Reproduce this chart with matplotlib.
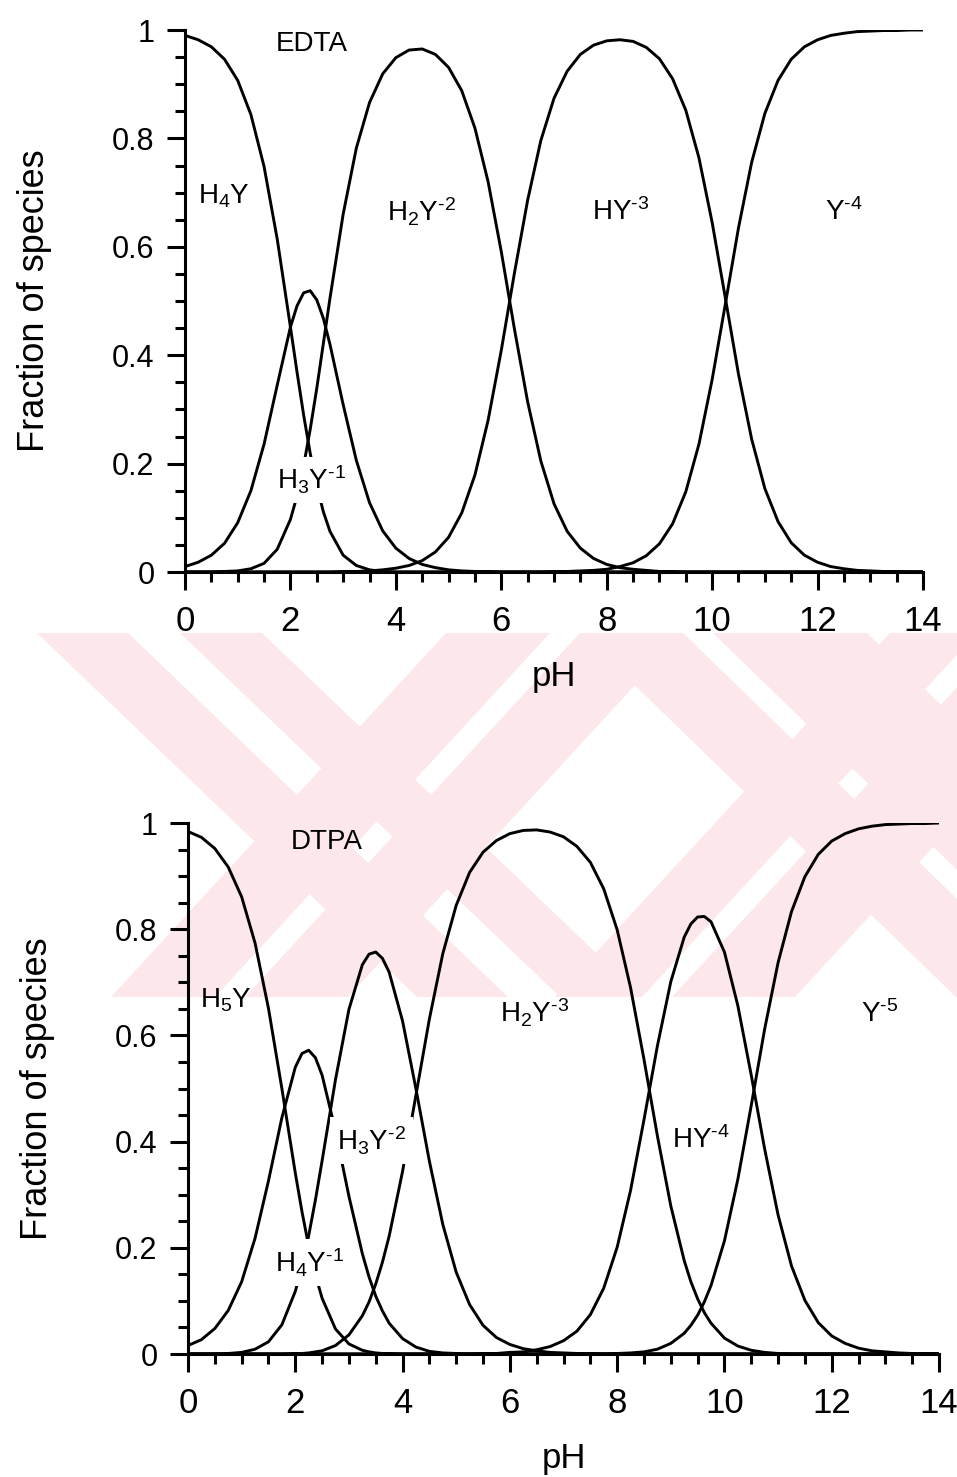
import matplotlib

matplotlib.use("Agg")
import matplotlib.pyplot as plt
from matplotlib.patches import Polygon
from matplotlib.ticker import MultipleLocator

plt.rcParams["font.family"] = ["Liberation Sans", "DejaVu Sans"]
plt.rcParams["mathtext.fontset"] = "custom"
plt.rcParams["mathtext.rm"] = "Liberation Sans"
plt.rcParams["mathtext.it"] = "Liberation Sans"
plt.rcParams["mathtext.default"] = "regular"

# --- EDTA fractions ---
EDTA_PH = [
    0.0, 0.25, 0.5, 0.75, 1.0, 1.25, 1.5, 1.75, 2.0, 2.125, 2.25, 2.375, 2.5,
    2.625, 2.75, 3.0, 3.25, 3.5, 3.75, 4.0, 4.25, 4.5, 4.75, 5.0, 5.25, 5.5,
    5.75, 6.0, 6.25, 6.5, 6.75, 7.0, 7.25, 7.5, 7.75, 8.0, 8.25, 8.5, 8.75,
    9.0, 9.25, 9.5, 9.75, 10.0, 10.25, 10.5, 10.75, 11.0, 11.25, 11.5, 11.75,
    12.0, 12.25, 12.5, 12.75, 13.0, 13.25, 13.5, 13.75, 14.0,
]
EDTA_H4Y = [
    0.990, 0.982, 0.969, 0.946, 0.907, 0.844, 0.748, 0.614, 0.452, 0.369,
    0.290, 0.219, 0.159, 0.111, 0.075, 0.031, 0.012, 0.004, 0.001, 0.000,
    0, 0, 0, 0, 0, 0, 0, 0, 0, 0,
    0, 0, 0, 0, 0, 0, 0, 0, 0, 0,
    0, 0, 0, 0, 0, 0, 0, 0, 0, 0,
    0, 0, 0, 0, 0, 0, 0, 0, 0, 0,
]
EDTA_H3Y = [
    0.010, 0.018, 0.031, 0.053, 0.091, 0.150, 0.236, 0.345, 0.452, 0.491,
    0.515, 0.519, 0.502, 0.468, 0.420, 0.309, 0.206, 0.128, 0.076, 0.044,
    0.025, 0.014, 0.008, 0.004, 0.002, 0.001, 0.001, 0, 0, 0,
    0, 0, 0, 0, 0, 0, 0, 0, 0, 0,
    0, 0, 0, 0, 0, 0, 0, 0, 0, 0,
    0, 0, 0, 0, 0, 0, 0, 0, 0, 0,
]
EDTA_H2Y = [
    0.000, 0.000, 0.000, 0.001, 0.002, 0.006, 0.016, 0.042, 0.097, 0.140,
    0.196, 0.263, 0.339, 0.422, 0.505, 0.660, 0.782, 0.866, 0.919, 0.949,
    0.963, 0.965, 0.955, 0.931, 0.888, 0.819, 0.720, 0.591, 0.448, 0.314,
    0.205, 0.126, 0.075, 0.044, 0.025, 0.014, 0.008, 0.005, 0.003, 0.001,
    0.001, 0, 0, 0, 0, 0, 0, 0, 0, 0,
    0, 0, 0, 0, 0, 0, 0, 0, 0, 0,
]
EDTA_HY = [
    0, 0, 0, 0, 0, 0, 0, 0, 0, 0,
    0, 0, 0, 0, 0, 0.001, 0.001, 0.002, 0.004, 0.007,
    0.012, 0.021, 0.037, 0.064, 0.109, 0.179, 0.280, 0.409, 0.552, 0.686,
    0.796, 0.874, 0.924, 0.955, 0.972, 0.980, 0.982, 0.979, 0.968, 0.947,
    0.910, 0.852, 0.764, 0.645, 0.506, 0.365, 0.245, 0.154, 0.093, 0.054,
    0.031, 0.018, 0.010, 0.006, 0.003, 0.002, 0.001, 0.001, 0.000, 0.000,
]
EDTA_Y = [
    0, 0, 0, 0, 0, 0, 0, 0, 0, 0,
    0, 0, 0, 0, 0, 0, 0, 0, 0, 0,
    0, 0, 0, 0, 0, 0, 0, 0, 0, 0,
    0, 0.001, 0.001, 0.002, 0.003, 0.005, 0.010, 0.017, 0.030, 0.052,
    0.089, 0.148, 0.236, 0.355, 0.494, 0.635, 0.756, 0.846, 0.907, 0.946,
    0.969, 0.982, 0.990, 0.994, 0.997, 0.998, 0.999, 0.999, 1.000, 1.000,
]

# --- DTPA fractions ---
DTPA_PH = [
    0.0, 0.25, 0.5, 0.75, 1.0, 1.25, 1.5, 1.75, 2.0, 2.125, 2.25, 2.375, 2.5,
    2.75, 3.0, 3.25, 3.375, 3.5, 3.625, 3.75, 4.0, 4.25, 4.5, 4.75, 5.0, 5.25,
    5.5, 5.75, 6.0, 6.25, 6.5, 6.75, 7.0, 7.25, 7.5, 7.75, 8.0, 8.25, 8.5,
    8.75, 9.0, 9.25, 9.375, 9.5, 9.625, 9.75, 10.0, 10.25, 10.5, 10.75, 11.0,
    11.25, 11.5, 11.75, 12.0, 12.25, 12.5, 12.75, 13.0, 13.25, 13.5, 13.75,
    14.0,
]
DTPA_H5Y = [
    0.984, 0.973, 0.952, 0.917, 0.861, 0.774, 0.651, 0.500, 0.341, 0.268,
    0.203, 0.149, 0.105, 0.047, 0.019, 0.007, 0.004, 0.002, 0.001, 0.001,
    0, 0, 0, 0, 0, 0, 0, 0, 0, 0,
    0, 0, 0, 0, 0, 0, 0, 0, 0, 0,
    0, 0, 0, 0, 0, 0, 0, 0, 0, 0,
    0, 0, 0, 0, 0, 0, 0, 0, 0, 0,
    0, 0, 0,
]
DTPA_H4Y = [
    0.016, 0.027, 0.048, 0.082, 0.136, 0.218, 0.326, 0.445, 0.540, 0.566,
    0.572, 0.558, 0.525, 0.420, 0.297, 0.189, 0.145, 0.109, 0.081, 0.058,
    0.029, 0.013, 0.005, 0.002, 0.001, 0, 0, 0, 0, 0,
    0, 0, 0, 0, 0, 0, 0, 0, 0, 0,
    0, 0, 0, 0, 0, 0, 0, 0, 0, 0,
    0, 0, 0, 0, 0, 0, 0, 0, 0, 0,
    0, 0, 0,
]
DTPA_H3Y = [
    0.000, 0.000, 0.000, 0.001, 0.003, 0.009, 0.023, 0.055, 0.118, 0.165,
    0.223, 0.290, 0.364, 0.517, 0.649, 0.733, 0.753, 0.757, 0.745, 0.719,
    0.627, 0.499, 0.363, 0.244, 0.154, 0.093, 0.054, 0.031, 0.018, 0.010,
    0.006, 0.003, 0.002, 0.001, 0.001, 0, 0, 0, 0, 0,
    0, 0, 0, 0, 0, 0, 0, 0, 0, 0,
    0, 0, 0, 0, 0, 0, 0, 0, 0, 0,
    0, 0, 0,
]
DTPA_H2Y = [
    0, 0, 0, 0, 0, 0, 0, 0, 0.001, 0.001,
    0.002, 0.004, 0.006, 0.016, 0.036, 0.072, 0.098, 0.132, 0.173, 0.222,
    0.344, 0.488, 0.631, 0.754, 0.845, 0.907, 0.945, 0.967, 0.980, 0.986,
    0.987, 0.983, 0.974, 0.956, 0.926, 0.876, 0.799, 0.690, 0.555, 0.411,
    0.279, 0.176, 0.136, 0.104, 0.078, 0.058, 0.030, 0.015, 0.007, 0.003,
    0.001, 0, 0, 0, 0, 0, 0, 0, 0, 0,
    0, 0, 0,
]
DTPA_HY = [
    0, 0, 0, 0, 0, 0, 0, 0, 0, 0,
    0, 0, 0, 0, 0, 0, 0, 0, 0, 0,
    0, 0, 0, 0, 0, 0, 0.001, 0.001, 0.003, 0.004,
    0.008, 0.014, 0.025, 0.043, 0.074, 0.124, 0.201, 0.308, 0.441, 0.580,
    0.701, 0.785, 0.810, 0.823, 0.824, 0.814, 0.757, 0.656, 0.525, 0.386,
    0.262, 0.166, 0.101, 0.059, 0.034, 0.020, 0.011, 0.006, 0.004, 0.002,
    0.001, 0.001, 0.000,
]
DTPA_Y = [
    0, 0, 0, 0, 0, 0, 0, 0, 0, 0,
    0, 0, 0, 0, 0, 0, 0, 0, 0, 0,
    0, 0, 0, 0, 0, 0, 0, 0, 0, 0,
    0, 0, 0, 0, 0, 0, 0.001, 0.002, 0.004, 0.009,
    0.020, 0.039, 0.054, 0.073, 0.098, 0.129, 0.213, 0.329, 0.468, 0.612,
    0.737, 0.833, 0.899, 0.941, 0.966, 0.980, 0.989, 0.994, 0.997, 0.998,
    0.999, 0.999, 1.000,
]

EDTA_CURVES = [EDTA_H4Y, EDTA_H3Y, EDTA_H2Y, EDTA_HY, EDTA_Y]
DTPA_CURVES = [DTPA_H5Y, DTPA_H4Y, DTPA_H3Y, DTPA_H2Y, DTPA_HY, DTPA_Y]
for curve in EDTA_CURVES:
    assert len(curve) == len(EDTA_PH)
for curve in DTPA_CURVES:
    assert len(curve) == len(DTPA_PH)

# species labels: (text, pH, fraction, label hides the curves behind it)
EDTA_LABELS = [
    (r"H$_4$Y", 0.25, 0.68, False),
    (r"H$_3$Y$^{\text{-1}}$", 1.75, 0.152, True),
    (r"H$_2$Y$^{\text{-2}}$", 3.83, 0.647, False),
    (r"HY$^{\text{-3}}$", 7.72, 0.65, False),
    (r"Y$^{\text{-4}}$", 12.14, 0.65, False),
]
DTPA_LABELS = [
    (r"H$_5$Y", 0.22, 0.652, False),
    (r"H$_4$Y$^{\text{-1}}$", 1.62, 0.154, True),
    (r"H$_3$Y$^{\text{-2}}$", 2.77, 0.384, True),
    (r"H$_2$Y$^{\text{-3}}$", 5.81, 0.625, False),
    (r"HY$^{\text{-4}}$", 9.03, 0.388, False),
    (r"Y$^{\text{-5}}$", 12.55, 0.625, False),
]

X_TICKS = [0, 2, 4, 6, 8, 10, 12, 14]
Y_TICKS = [0, 0.2, 0.4, 0.6, 0.8, 1.0]
Y_TICK_LABELS = ["0", "0.2", "0.4", "0.6", "0.8", "1"]

W, H = 957, 1477


def add_watermark(fig):
    """Faint pink diagonal stripes of the scanned page's watermark."""
    top, bottom = 633, 997
    # (x left at top, x right at top, horizontal drift from top to bottom), pixels
    stripes = [
        (37, 128, 380), (180, 262, 380),
        (446, 550, -335), (580, 683, -335),
        (581, 683, 375), (713, 867, 375),
        (890, 977, -335), (1007, 1130, -335),
    ]
    for x0, x1, drift in stripes:
        pts = [(x0, top), (x1, top), (x1 + drift, bottom), (x0 + drift, bottom)]
        pts = [(x / W, 1 - y / H) for x, y in pts]
        fig.patches.append(
            Polygon(pts, closed=True, transform=fig.transFigure,
                    facecolor="#fce7eb", edgecolor="none", zorder=-5)
        )


def style_axis(ax, width_px, height_px):
    ax.set_xlim(0, 14)
    ax.set_ylim(0, 1)
    ax.set_facecolor("none")
    for side in ("top", "right"):
        ax.spines[side].set_visible(False)
    for side in ("left", "bottom"):
        ax.spines[side].set_linewidth(2.2)
    ax.set_xticks(X_TICKS)
    ax.set_xticklabels([str(t) for t in X_TICKS])
    ax.set_yticks(Y_TICKS)
    ax.set_yticklabels(Y_TICK_LABELS)
    ax.xaxis.set_minor_locator(MultipleLocator(0.5))
    ax.yaxis.set_minor_locator(MultipleLocator(0.05))
    ax.tick_params(which="major", length=13, width=2.2, direction="out")
    ax.tick_params(which="minor", length=7, width=2.2, direction="out")
    ax.tick_params(axis="x", which="major", labelsize=25, pad=11)
    ax.tick_params(axis="y", which="major", labelsize=22, pad=9)
    ax.set_xlabel("pH", fontsize=25, va="top")
    ax.xaxis.set_label_coords(0.5, -88 / height_px)
    ax.set_ylabel("Fraction of species", fontsize=26)
    ax.yaxis.set_label_coords(-133 / width_px, 0.5)


def draw_panel(ax, ph, curves, labels, title, title_pos):
    for values in curves:
        ax.plot(ph, values, color="black", lw=2.1, solid_joinstyle="round")
    ax.text(*title_pos, title, fontsize=20, ha="center", va="center")
    for text, x, y, covers in labels:
        kw = {}
        if covers:
            kw["bbox"] = dict(facecolor="white", edgecolor="none", pad=5)
        ax.text(x, y, text, fontsize=20, ha="left", va="baseline", zorder=5, **kw)


fig = plt.figure(figsize=(9.57, 14.77), dpi=100)
add_watermark(fig)

ax1 = fig.add_axes([185 / W, (H - 572) / H, 738 / W, 542 / H])
style_axis(ax1, 738, 542)
draw_panel(ax1, EDTA_PH, EDTA_CURVES, EDTA_LABELS, "EDTA", (2.41, 0.975))

ax2 = fig.add_axes([188 / W, (H - 1354) / H, 751 / W, 531 / H])
style_axis(ax2, 751, 531)
draw_panel(ax2, DTPA_PH, DTPA_CURVES, DTPA_LABELS, "DTPA", (2.59, 0.964))

fig.savefig("out.png", dpi=100, facecolor="white")
